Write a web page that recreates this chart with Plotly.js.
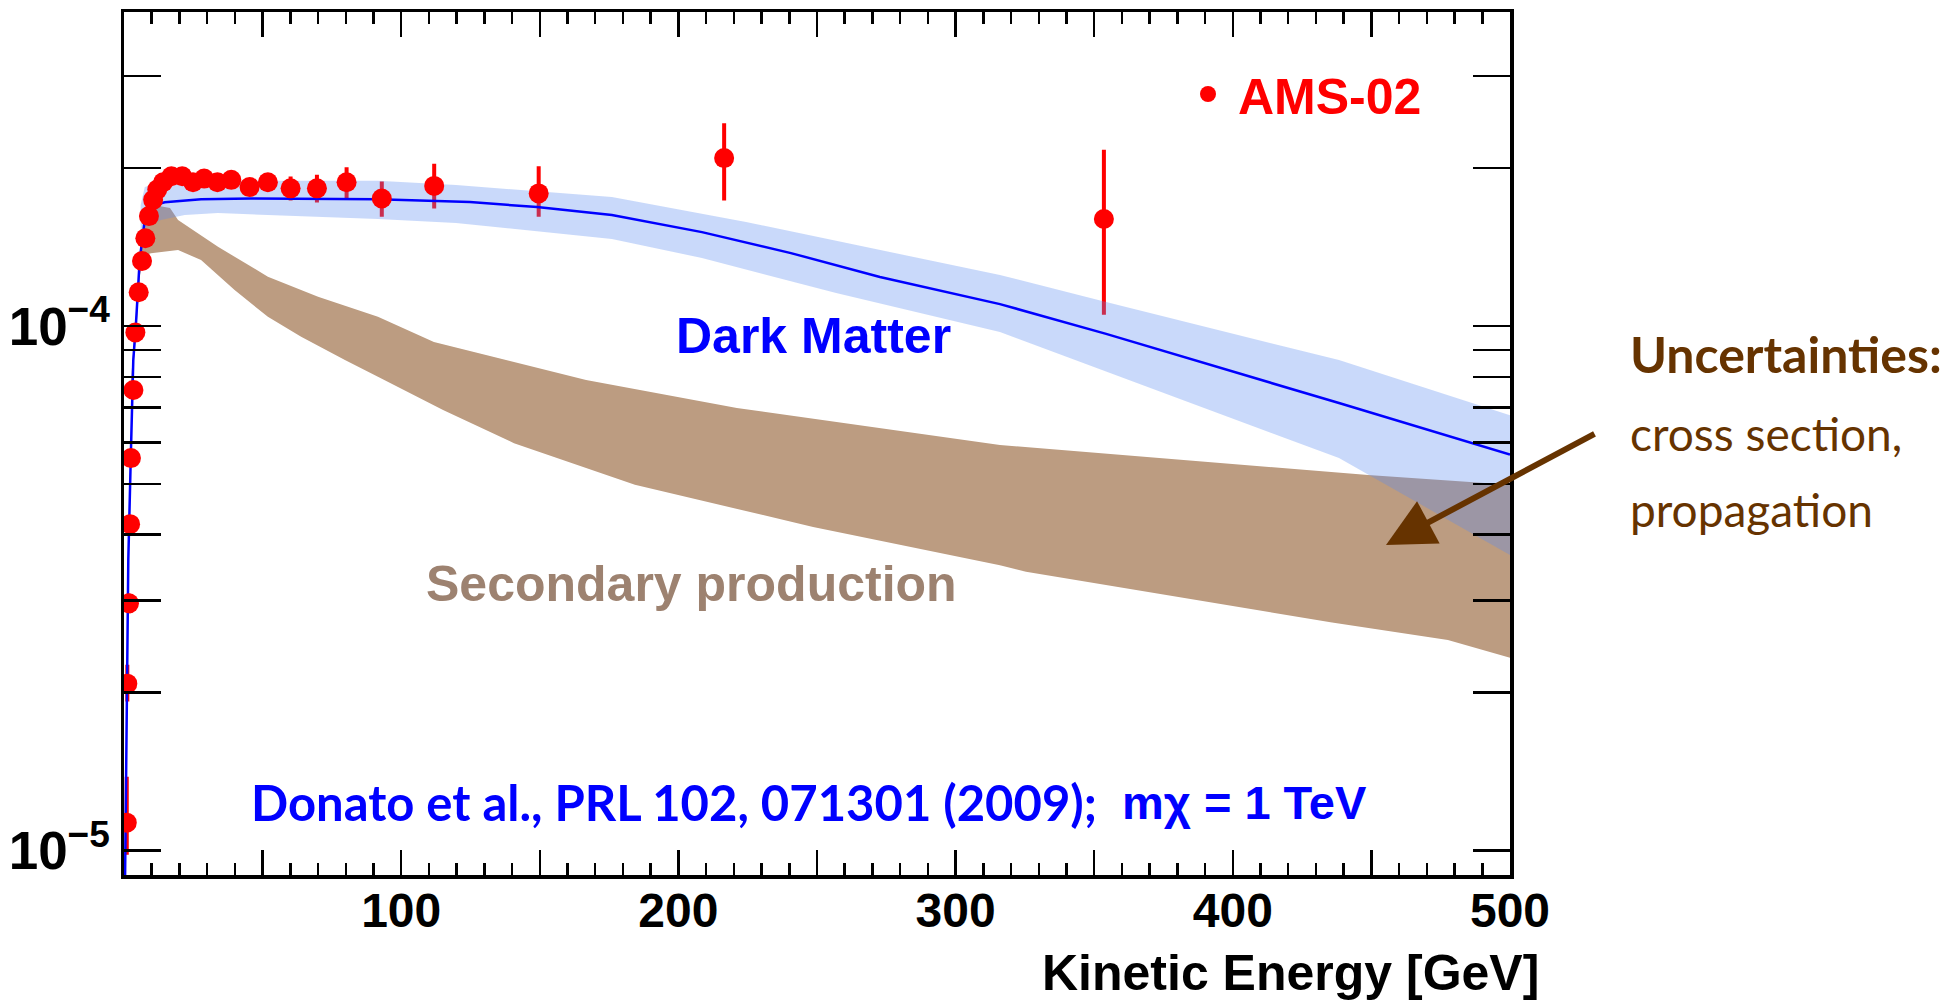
<!DOCTYPE html>
<html>
<head>
<meta charset="utf-8">
<script src="https://cdn.plot.ly/plotly-3.0.1.min.js"></script>
<style>html,body{margin:0;padding:0;background:#fff;}#chart{width:1952px;height:1002px;}</style>
</head>
<body>
<div id="chart"></div>
<script>
// ---- AMS-02 antiproton / proton ratio ----
const amsEnergy = [1.0, 1.2, 1.8, 2.2, 2.5, 3.4, 4.1, 5.3, 6.5, 7.7, 9.0, 10.5, 12.0, 14.1, 17.1, 21.0, 24.9, 28.9, 33.7, 38.7, 45.3, 51.9, 60.1, 69.6, 80.3, 93.0, 111.9, 149.6, 216.5, 353.5];
const amsRatio = [1.13e-5, 2.08e-5, 2.96e-5, 4.19e-5, 5.60e-5, 7.55e-5, 9.72e-5, 1.16e-4, 1.33e-4, 1.47e-4, 1.62e-4, 1.74e-4, 1.82e-4, 1.88e-4, 1.93e-4, 1.93e-4, 1.88e-4, 1.91e-4, 1.88e-4, 1.90e-4, 1.84e-4, 1.88e-4, 1.83e-4, 1.83e-4, 1.88e-4, 1.75e-4, 1.85e-4, 1.79e-4, 2.09e-4, 1.60e-4];
const amsErrPlus = [2.4e-6, 1.6e-6, 1.0e-6, 1.2e-6, 1.5e-6, 2.0e-6, 2.5e-6, 3.0e-6, 3.0e-6, 3.0e-6, 3.0e-6, 3.5e-6, 3.5e-6, 3.5e-6, 4.0e-6, 4.0e-6, 4.0e-6, 4.5e-6, 4.5e-6, 5.0e-6, 5.5e-6, 6.0e-6, 8.0e-6, 9.5e-6, 1.1e-5, 1.2e-5, 1.7e-5, 2.1e-5, 3.25e-5, 5.5e-5];
const amsErrMinus = [1.4e-6, 1.4e-6, 1.0e-6, 1.2e-6, 1.5e-6, 2.0e-6, 2.5e-6, 3.0e-6, 3.0e-6, 3.0e-6, 3.0e-6, 3.5e-6, 3.5e-6, 3.5e-6, 4.0e-6, 4.0e-6, 4.0e-6, 4.5e-6, 4.5e-6, 5.0e-6, 5.5e-6, 6.0e-6, 8.0e-6, 9.5e-6, 1.1e-5, 1.2e-5, 1.6e-5, 1.6e-5, 3.4e-5, 5.4e-5];

// ---- Dark matter prediction (central line) ----
const dmEnergy = [0.35, 0.97, 1.55, 2.42, 3.35, 4.33, 5.66, 7.47, 11.1, 14.7, 27.8, 45.8, 91.6, 124.8, 149.0, 176.0, 208.5, 240.6, 272.7, 316.0, 354.3, 438.3, 500];
const dmRatio = [8.5e-6, 2.00e-5, 3.58e-5, 5.55e-5, 8.61e-5, 1.013e-4, 1.336e-4, 1.592e-4, 1.70e-4, 1.721e-4, 1.744e-4, 1.751e-4, 1.744e-4, 1.723e-4, 1.686e-4, 1.628e-4, 1.51e-4, 1.377e-4, 1.240e-4, 1.101e-4, 9.66e-5, 7.13e-5, 5.69e-5];

// ---- Dark matter uncertainty band ----
const dmBandHiEnergy = [6.0, 7.5, 14.7, 33.9, 91.6, 119.8, 176.0, 224.4, 316.0, 354.3, 438.3, 500];
const dmBandHi = [1.70e-4, 1.84e-4, 1.884e-4, 1.892e-4, 1.892e-4, 1.857e-4, 1.762e-4, 1.579e-4, 1.251e-4, 1.111e-4, 8.61e-5, 6.76e-5];
const dmBandLoEnergy = [6.0, 7.0, 13.3, 21.9, 33.9, 91.6, 119.8, 176.0, 208.5, 256.9, 316.0, 438.3, 500];
const dmBandLo = [1.48e-4, 1.53e-4, 1.592e-4, 1.628e-4, 1.642e-4, 1.600e-4, 1.572e-4, 1.465e-4, 1.348e-4, 1.156e-4, 9.74e-5, 5.60e-5, 3.66e-5];

// ---- Secondary production band ----
const secHiEnergy = [2.53, 4.33, 5.77, 7.94, 11.2, 16.6, 19.5, 33.9, 51.9, 70.0, 91.6, 111.8, 166.7, 221.1, 316.0, 448.8, 500];
const secHi = [7.88e-5, 1.05e-4, 1.396e-4, 1.628e-4, 1.70e-4, 1.679e-4, 1.592e-4, 1.416e-4, 1.242e-4, 1.137e-4, 1.041e-4, 9.32e-5, 7.89e-5, 6.98e-5, 5.93e-5, 5.20e-5, 4.98e-5];
const secLoEnergy = [2.53, 4.33, 5.77, 7.47, 9.74, 19.5, 27.8, 39.9, 51.9, 63.9, 79.7, 91.6, 115.1, 140.7, 184.3, 248.6, 316.0, 325.4, 435.8, 477.6, 500];
const secLo = [7.38e-5, 9.61e-5, 1.251e-4, 1.365e-4, 1.377e-4, 1.396e-4, 1.336e-4, 1.171e-4, 1.041e-4, 9.54e-5, 8.61e-5, 8.00e-5, 6.92e-5, 5.98e-5, 4.98e-5, 4.14e-5, 3.50e-5, 3.40e-5, 2.72e-5, 2.52e-5, 2.33e-5];

// ---- Ticks ----
const xLabelTickVals = [100, 200, 300, 400, 500];
const xLabelTickText = ['100', '200', '300', '400', '500'];
const xMidTickVals = [50, 150, 250, 350, 450];
const yTickVals = [1e-5, 1e-4];
const yTickText = ['10<sup>\u22125</sup>', '10<sup>\u22124</sup>'];

function polygon(xHi, yHi, xLo, yLo) {
  return {
    x: xHi.concat(xLo.slice().reverse()),
    y: yHi.concat(yLo.slice().reverse())
  };
}
const secPoly = polygon(secHiEnergy, secHi, secLoEnergy, secLo);
const dmPoly = polygon(dmBandHiEnergy, dmBandHi, dmBandLoEnergy, dmBandLo);

const HELV = 'Liberation Sans, Arial, Helvetica, sans-serif';

const traces = [
  { x: secPoly.x, y: secPoly.y, type: 'scatter', mode: 'lines', fill: 'toself',
    fillcolor: 'rgb(188,156,129)', line: {width: 0}, hoverinfo: 'skip', showlegend: false },
  { x: amsEnergy, y: amsRatio, type: 'scatter', mode: 'markers',
    marker: {size: 2, color: 'rgba(255,0,0,0)'},
    error_y: {type: 'data', symmetric: false, array: amsErrPlus, arrayminus: amsErrMinus,
              color: '#ff0000', thickness: 4, width: 2},
    hoverinfo: 'skip', showlegend: false },
  { x: dmPoly.x, y: dmPoly.y, type: 'scatter', mode: 'lines', fill: 'toself',
    fillcolor: 'rgba(92,141,240,0.33)', line: {width: 0}, hoverinfo: 'skip', showlegend: false },
  { x: dmEnergy, y: dmRatio, type: 'scatter', mode: 'lines',
    line: {color: '#0000ff', width: 2.5}, showlegend: false },
  { x: amsEnergy, y: amsRatio, type: 'scatter', mode: 'markers', name: 'AMS-02',
    marker: {size: 20, color: '#ff0000'}, showlegend: true },
  { x: [], y: [], type: 'scatter', mode: 'markers', xaxis: 'x2', yaxis: 'y', showlegend: false, hoverinfo: 'skip' }
];

const paperX = X => (X - 124) / 1386;
const paperY = Y => (875 - Y) / 863;

const layout = {
  width: 1952, height: 1002,
  margin: {l: 124, r: 442, t: 12, b: 127},
  paper_bgcolor: '#ffffff', plot_bgcolor: '#ffffff',
  font: {family: HELV, color: '#000'},
  showlegend: true,
  legend: {
    x: paperX(1178), y: paperY(94), xanchor: 'left', yanchor: 'middle',
    bgcolor: 'rgba(0,0,0,0)', borderwidth: 0, itemwidth: 50,
    font: {family: HELV, size: 50, color: '#ff0000', weight: 'bold'}
  },
  xaxis: {
    range: [0, 500], showgrid: false, zeroline: false,
    showline: true, linecolor: '#000', linewidth: 3.5, mirror: 'allticks',
    ticks: 'inside', ticklen: 25, tickwidth: 2.5, tickcolor: '#000',
    tickmode: 'array', tickvals: xLabelTickVals, ticktext: xLabelTickText,
    ticklabelstandoff: -9,
    tickfont: {family: HELV, size: 48, color: '#000', weight: 'bold'},
    minor: {ticks: 'inside', ticklen: 12, tickwidth: 2.5, tickcolor: '#000', dtick: 10, tick0: 0, showgrid: false}
  },
  xaxis2: {
    overlaying: 'x', anchor: 'y', side: 'bottom',
    range: [0, 500], showgrid: false, zeroline: false,
    showline: true, linecolor: '#000', linewidth: 3.5, mirror: 'allticks',
    ticks: 'inside', ticklen: 25, tickwidth: 2.5, tickcolor: '#000',
    tickmode: 'array', tickvals: xMidTickVals, showticklabels: false
  },
  yaxis: {
    type: 'log', range: [-5.0467, -3.4013], showgrid: false, zeroline: false,
    showline: true, linecolor: '#000', linewidth: 3.5, mirror: 'allticks',
    ticks: 'inside', ticklen: 37, tickwidth: 2.5, tickcolor: '#000',
    tickmode: 'array', tickvals: yTickVals, ticktext: yTickText,
    tickfont: {family: HELV, size: 53, color: '#000', weight: 'bold'},
    minor: {ticks: 'inside', ticklen: 17, tickwidth: 2.5, tickcolor: '#000', dtick: 'D1', showgrid: false}
  },
  annotations: [
    {xref: 'paper', yref: 'paper', x: paperX(813), y: paperY(336), xanchor: 'center', yanchor: 'middle',
     text: 'Dark Matter', showarrow: false, font: {family: HELV, size: 50, color: '#0000ff', weight: 'bold'}},
    {xref: 'paper', yref: 'paper', x: paperX(691), y: paperY(584), xanchor: 'center', yanchor: 'middle',
     text: 'Secondary production', showarrow: false, font: {family: HELV, size: 50, color: '#9d8270', weight: 'bold'}},
    {xref: 'paper', yref: 'paper', x: paperX(249), y: paperY(802), xanchor: 'left', yanchor: 'middle',
     text: 'Donato et al., PRL 102, 071301 (2009);', showarrow: false,
     font: {family: 'Lato, sans-serif', size: 49, color: '#0000ff', weight: 'bold'}},
    {xref: 'paper', yref: 'paper', x: paperX(1120), y: paperY(802), xanchor: 'left', yanchor: 'middle',
     text: 'm\u03c7 = 1 TeV', showarrow: false,
     font: {family: HELV, size: 47, color: '#0000ff', weight: 'bold'}},
    {xref: 'paper', yref: 'paper', x: paperX(1541), y: paperY(973), xanchor: 'right', yanchor: 'middle',
     text: 'Kinetic Energy [GeV]', showarrow: false,
     font: {family: HELV, size: 50, color: '#000', weight: 'bold'}},
    {xref: 'paper', yref: 'paper', x: paperX(1628), y: paperY(354), xanchor: 'left', yanchor: 'middle',
     text: 'Uncertainties:', showarrow: false,
     font: {family: 'Lato, sans-serif', size: 50, color: '#663300', weight: 'bold'}},
    {xref: 'paper', yref: 'paper', x: paperX(1628), y: paperY(433), xanchor: 'left', yanchor: 'middle',
     text: 'cross section,', showarrow: false,
     font: {family: 'Lato, sans-serif', size: 46, color: '#663300'}},
    {xref: 'paper', yref: 'paper', x: paperX(1628), y: paperY(510), xanchor: 'left', yanchor: 'middle',
     text: 'propagation', showarrow: false,
     font: {family: 'Lato, sans-serif', size: 46, color: '#663300'}},
    {xref: 'paper', yref: 'paper', x: paperX(1386), y: paperY(545), axref: 'pixel', ayref: 'pixel',
     ax: 210, ay: -112, text: '', showarrow: true, arrowhead: 2, arrowsize: 1.6, arrowwidth: 6,
     arrowcolor: '#663300', standoff: 0, startstandoff: 0}
  ]
};

Plotly.newPlot('chart', traces, layout, {displayModeBar: false, staticPlot: true});
</script>
</body>
</html>
